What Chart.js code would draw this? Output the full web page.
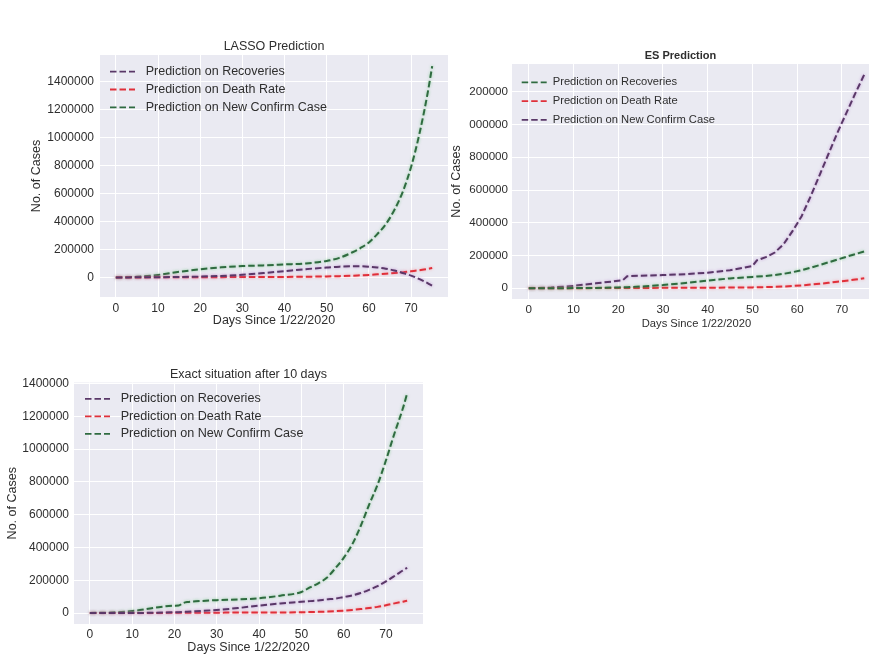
<!DOCTYPE html>
<html>
<head>
<meta charset="utf-8">
<script src="https://cdn.jsdelivr.net/npm/chart.js@4.4.1/dist/chart.umd.min.js"></script>
<style>
  html, body { margin:0; padding:0; background:#ffffff; width:869px; height:657px; overflow:hidden; position:relative; }
  canvas { position:absolute; }
  #mask { position:absolute; left:455px; top:68px; width:14px; height:64px; background:#ffffff; }
</style>
</head>
<body>
<canvas id="c1" width="448" height="340" style="left:0;top:0"></canvas>
<canvas id="c2" width="465" height="340" style="left:448px;top:0"></canvas>
<canvas id="c3" width="423" height="317" style="left:0;top:340px"></canvas>
<div id="mask"></div>
<script>
// ---------- data ----------
const seriesLabels = ['Prediction on Recoveries', 'Prediction on Death Rate', 'Prediction on New Confirm Case'];
const chartTitles = ['LASSO Prediction', 'ES Prediction', 'Exact situation after 10 days'];
const xTitle = 'Days Since 1/22/2020';
const yTitle = 'No. of Cases';
const xTicks = [0, 10, 20, 30, 40, 50, 60, 70];
const yTicksLasso = [0, 200000, 400000, 600000, 800000, 1000000, 1200000, 1400000];
const yTicksES = [0, 200000, 400000, 600000, 800000, 1000000, 1200000];
const yTicksExact = [0, 200000, 400000, 600000, 800000, 1000000, 1200000, 1400000];

// LASSO prediction
const lassoDays       = [0, 5, 10, 15, 20, 25, 30, 35, 40, 45, 50, 53, 56, 58, 60, 62, 64, 66, 68, 70, 72, 74, 75];
const lassoRecoveries = [0, 500, 1500, 3000, 6000, 11000, 19000, 31000, 45000, 59000, 71000, 77000, 80000, 80000, 77000, 71000, 62000, 50000, 32000, 13000, -12000, -42000, -60000];
const lassoDeaths     = [0, 200, 500, 1000, 1500, 2000, 2500, 3000, 3500, 5000, 7000, 9000, 12000, 15000, 18000, 22000, 26000, 31000, 36000, 44000, 52000, 61000, 67000];
const lassoConfirmed  = [0, 4000, 18000, 40000, 58000, 72000, 81000, 86000, 93000, 100000, 118000, 140000, 178000, 210000, 250000, 310000, 380000, 480000, 610000, 790000, 1030000, 1330000, 1510000];

// ES prediction
const esDays       = [0, 5, 10, 15, 20, 21, 22, 25, 30, 35, 40, 45, 50, 51, 53, 55, 57, 59, 61, 63, 65, 67, 69, 71, 73, 75];
const esRecoveries = [0, 100, 500, 1500, 5000, 5500, 6500, 10000, 19000, 32000, 47000, 60000, 69000, 71000, 75000, 80000, 88000, 98000, 110000, 125000, 141000, 158000, 175000, 192000, 208000, 225000];
const esDeaths     = [0, 100, 250, 600, 1000, 1100, 1300, 1700, 2200, 2700, 3100, 3800, 5000, 5300, 6500, 8000, 10500, 13500, 17000, 22000, 27000, 33000, 40000, 46000, 53000, 61000];
const esConfirmed  = [0, 4000, 14000, 30000, 45000, 48000, 73000, 76000, 80000, 86000, 95000, 110000, 135000, 170000, 190000, 218000, 270000, 350000, 440000, 560000, 690000, 820000, 950000, 1070000, 1190000, 1305000];

// Exact situation
const exactDays       = [0, 5, 10, 15, 20, 21, 22, 23, 25, 30, 35, 40, 45, 50, 52, 54, 56, 58, 60, 62, 64, 66, 68, 70, 72, 74, 75];
const exactRecoveries = [28, 60, 280, 1500, 4700, 5200, 6200, 8000, 10900, 18900, 30400, 45600, 58400, 68300, 72600, 77000, 83300, 87400, 97900, 107700, 122100, 141700, 164600, 193200, 225800, 260000, 276500];
const exactDeaths     = [17, 82, 259, 640, 1113, 1118, 1371, 1523, 1770, 2251, 2770, 3085, 3558, 4720, 5819, 7126, 8733, 11299, 14623, 19000, 24000, 30650, 37580, 47200, 58800, 69400, 74500];
const exactConfirmed  = [555, 2900, 12000, 31000, 44800, 45200, 60400, 66900, 71200, 78600, 82700, 90300, 105800, 128300, 156100, 181500, 214900, 272200, 337000, 418000, 529600, 660700, 782400, 932600, 1095900, 1249800, 1340000];

// ---------- styles ----------
const FONT = '"Liberation Sans", Arial, sans-serif';
const TEXT = '#2e2e2e';
const PURPLE = '#5a3868', PURPLE_H = 'rgba(175,110,205,0.65)';
const RED = '#e0303a', RED_H = 'rgba(255,120,130,0.65)';
const GREEN = '#2f6b40', GREEN_H = 'rgba(95,195,115,0.65)';
const DASH = [6.5, 3];

function pts(days, vals) { return days.map((d, i) => ({ x: d, y: vals[i] })); }

const bgPlugin = {
  id: 'plotBg',
  beforeDraw(chart) {
    const { ctx, chartArea: a } = chart;
    ctx.save();
    ctx.fillStyle = '#EAEAF2';
    ctx.fillRect(a.left, a.top, a.right - a.left, a.bottom - a.top);
    ctx.restore();
  }
};
const haloPlugin = {
  id: 'halo',
  beforeDatasetDraw(chart, args) {
    const ds = chart.data.datasets[args.index];
    chart.ctx.save();
    chart.ctx.shadowColor = ds.haloColor;
    chart.ctx.shadowBlur = 3;
  },
  afterDatasetDraw(chart) { chart.ctx.restore(); }
};
const insideLegend = {
  id: 'insideLegend',
  afterDatasetsDraw(chart, args, o) {
    const { ctx, chartArea: a } = chart;
    ctx.save();
    ctx.font = o.font;
    ctx.textBaseline = 'middle';
    ctx.textAlign = 'left';
    chart.data.datasets.forEach((ds, i) => {
      const y = a.top + o.top + i * o.step;
      ctx.beginPath();
      ctx.setLineDash(ds.borderDash);
      ctx.lineWidth = 1.8;
      ctx.strokeStyle = ds.borderColor;
      ctx.moveTo(a.left + o.x0, y);
      ctx.lineTo(a.left + o.x1, y);
      ctx.stroke();
      ctx.setLineDash([]);
      ctx.fillStyle = TEXT;
      ctx.fillText(ds.label, a.left + o.tx, y);
    });
    ctx.restore();
  }
};

function makeChart(id, c) {
  const datasets = c.series.map(s => ({
    label: s.label,
    data: s.data,
    yAxisID: 'y',
    borderColor: s.color,
    haloColor: s.halo,
    borderDash: DASH,
    borderWidth: 2,
    pointRadius: 0,
    fill: false,
    tension: c.smooth ? 0.4 : 0,
    cubicInterpolationMode: c.smooth ? 'monotone' : 'default'
  }));
  const scales = {
    x: {
      type: 'linear', min: -3.75, max: 78.75,
      afterBuildTicks: s => { s.ticks = xTicks.map(v => ({ value: v })); },
      afterFit: s => { s.height = c.xHeight; },
      ticks: { color: TEXT, padding: c.xTickPad, font: { family: FONT, size: c.tickSize }, callback: v => String(v), maxRotation: 0 },
      grid: { color: '#ffffff', lineWidth: 1, drawTicks: false },
      border: { display: false },
      title: { display: true, text: xTitle, color: TEXT, font: { family: FONT, size: c.axTitleSize, lineHeight: 1.2 }, padding: { top: 0, bottom: c.xTitleBottom } }
    },
    y: {
      type: 'linear', position: 'left', min: c.yMin, max: c.yMax,
      afterBuildTicks: s => { s.ticks = c.yTicks.map(v => ({ value: v })); },
      afterFit: s => { s.width = c.yWidth; },
      ticks: { color: TEXT, padding: c.yTickPad, font: { family: FONT, size: c.tickSize }, callback: v => String(v) },
      grid: { color: '#ffffff', lineWidth: 1, drawTicks: false },
      border: { display: false },
      title: { display: true, text: yTitle, color: TEXT, font: { family: FONT, size: 12.5, lineHeight: 1.2 }, padding: { top: c.yTitleTop, bottom: 0 } }
    }
  };
  if (c.rightSpace) {
    scales.yR = {
      type: 'linear', position: 'right', display: true,
      afterFit: s => { s.width = c.rightSpace; },
      ticks: { display: false }, grid: { display: false }, border: { display: false }
    };
  }
  return new Chart(document.getElementById(id), {
    type: 'line',
    data: { datasets },
    plugins: [bgPlugin, haloPlugin, insideLegend],
    options: {
      responsive: false,
      animation: false,
      devicePixelRatio: 1,
      layout: { padding: c.pad },
      plugins: {
        legend: { display: false },
        tooltip: { enabled: false },
        title: {
          display: true, text: c.title, color: TEXT, fullSize: c.titleFull,
          font: { family: FONT, size: c.titleSize, weight: c.titleWeight, lineHeight: 1.2 },
          padding: { top: 0, bottom: c.titleGap }
        },
        insideLegend: c.legend
      },
      scales
    }
  });
}

makeChart('c1', {
  title: chartTitles[0], titleFull: false, titleSize: 12.5, titleWeight: 'normal', titleGap: 0.5,
  pad: { top: 39.5, left: 0, right: 0, bottom: 0 },
  smooth: true,
  series: [
    { label: seriesLabels[0], data: pts(lassoDays, lassoRecoveries), color: PURPLE, halo: PURPLE_H },
    { label: seriesLabels[1], data: pts(lassoDays, lassoDeaths), color: RED, halo: RED_H },
    { label: seriesLabels[2], data: pts(lassoDays, lassoConfirmed), color: GREEN, halo: GREEN_H }
  ],
  yMin: -140000, yMax: 1590000, yTicks: yTicksLasso, yWidth: 100, yTitleTop: 29.5, yTickPad: 6,
  tickSize: 12, axTitleSize: 12.5, xHeight: 43, xTickPad: 4, xTitleBottom: 11.5,
  legend: { top: 16.7, step: 17.8, x0: 10, x1: 35, tx: 45.7, font: '12.5px ' + FONT }
});

makeChart('c2', {
  title: chartTitles[1], titleFull: true, titleSize: 11, titleWeight: 'bold', titleGap: 1.4,
  pad: { top: 49.4, left: 0, right: 0, bottom: 0 },
  smooth: false, rightSpace: 32,
  series: [
    { label: seriesLabels[0], data: pts(esDays, esRecoveries), color: GREEN, halo: GREEN_H },
    { label: seriesLabels[1], data: pts(esDays, esDeaths), color: RED, halo: RED_H },
    { label: seriesLabels[2], data: pts(esDays, esConfirmed), color: PURPLE, halo: PURPLE_H }
  ],
  yMin: -66000, yMax: 1370000, yTicks: yTicksES, yWidth: 64, yTitleTop: 1.5, yTickPad: 4,
  tickSize: 11.6, axTitleSize: 11.2, xHeight: 41, xTickPad: 4, xTitleBottom: 9.3,
  legend: { top: 18.3, step: 18.8, x0: 9.7, x1: 34.7, tx: 40.7, font: '11.2px ' + FONT }
});

makeChart('c3', {
  title: chartTitles[2], titleFull: false, titleSize: 12.5, titleWeight: 'normal', titleGap: 0,
  pad: { top: 27.5, left: 0, right: 0, bottom: 0 },
  smooth: true,
  series: [
    { label: seriesLabels[0], data: pts(exactDays, exactRecoveries), color: PURPLE, halo: PURPLE_H },
    { label: seriesLabels[1], data: pts(exactDays, exactDeaths), color: RED, halo: RED_H },
    { label: seriesLabels[2], data: pts(exactDays, exactConfirmed), color: GREEN, halo: GREEN_H }
  ],
  yMin: -67000, yMax: 1407000, yTicks: yTicksExact, yWidth: 74, yTitleTop: 5.5, yTickPad: 5,
  tickSize: 12, axTitleSize: 12.5, xHeight: 33, xTickPad: 3.5, xTitleBottom: 1.5,
  legend: { top: 16.3, step: 17.5, x0: 11, x1: 36, tx: 46.7, font: '12.6px ' + FONT }
});
</script>
</body>
</html>
